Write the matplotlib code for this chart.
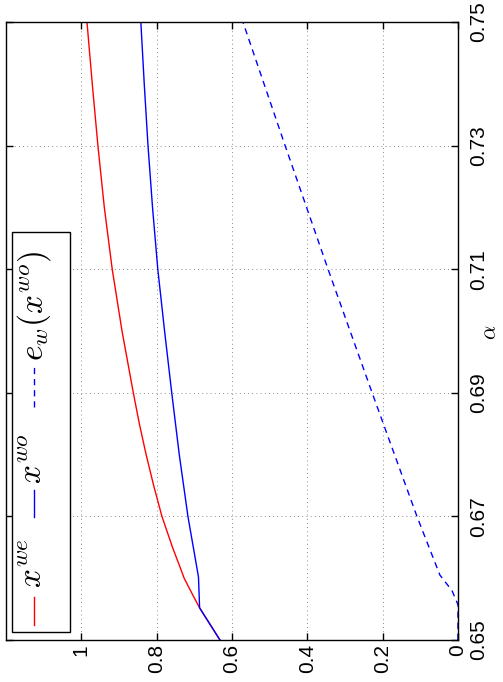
import matplotlib
matplotlib.use("Agg")
import matplotlib.pyplot as plt
from matplotlib.patches import Rectangle
from matplotlib.lines import Line2D

plt.rcParams['font.family'] = ['Liberation Sans', 'DejaVu Sans']
plt.rcParams['mathtext.fontset'] = 'cm'

# ---- data (alpha on the rotated vertical axis, value on the rotated horizontal axis)
alpha_we = [0.65, 0.6552, 0.6575, 0.66, 0.6618, 0.665, 0.67, 0.675, 0.68, 0.685,
            0.69, 0.70, 0.71, 0.72, 0.73, 0.74, 0.75]
x_we = [0.632, 0.686, 0.706, 0.727, 0.738, 0.758, 0.786, 0.808, 0.828, 0.846,
        0.862, 0.892, 0.918, 0.939, 0.956, 0.971, 0.985]

alpha_wo = [0.65, 0.6552, 0.6602, 0.67, 0.68, 0.69, 0.70, 0.71, 0.72, 0.73, 0.74, 0.75]
x_wo = [0.632, 0.686, 0.689, 0.717, 0.740, 0.760, 0.779, 0.797, 0.811, 0.823, 0.833, 0.842]

alpha_ew = [0.65, 0.6557, 0.658, 0.6605, 0.67, 0.69, 0.71, 0.73, 0.75]
e_w = [0.0, 0.0, 0.016, 0.048, 0.109, 0.228, 0.345, 0.459, 0.571]

value_ticks = [0, 0.2, 0.4, 0.6, 0.8, 1]
value_labels = ['0', '0.2', '0.4', '0.6', '0.8', '1']
alpha_ticks = [0.65, 0.67, 0.69, 0.71, 0.73, 0.75]
alpha_labels = ['0.65', '0.67', '0.69', '0.71', '0.73', '0.75']
legend_labels = [r'$x^{we}$', r'$x^{wo}$', r'$e_w(x^{wo})$']
axis_label = r'$\alpha$'

W, H = 503, 682
fig = plt.figure(figsize=(W / 100, H / 100), dpi=100)
l, r, t, b = 6, 458, 22, 640
ax = fig.add_axes([l / W, 1 - b / H, (r - l) / W, (b - t) / H])

ax.plot(x_we, alpha_we, color='red', lw=1.0)
ax.plot(x_wo, alpha_wo, color='blue', lw=1.0)
ax.plot(e_w, alpha_ew, color='blue', lw=1.0, ls=(0, (4.5, 3.5)))

ax.set_xlim(1.2, 0)
ax.set_ylim(0.65, 0.75)
ax.set_xticks(value_ticks)
ax.set_xticklabels(value_labels, rotation=90, fontsize=15)
ax.set_yticks(alpha_ticks)
ax.set_yticklabels(alpha_labels, rotation=90, va='center', fontsize=15)

ax.tick_params(axis='x', direction='in', top=True, bottom=True, length=5, width=1, pad=3)
ax.tick_params(axis='y', direction='in', left=True, right=True, labelleft=False,
               labelright=True, length=5, width=1, pad=8)

ax.grid(True, color='#666666', ls=(0, (1, 4)), lw=0.6)
for s in ax.spines.values():
    s.set_linewidth(1.0)

# axis label for alpha, placed to the right of its tick labels
fig.text(491 / W, 1 - 332 / H, axis_label, rotation=90, ha='center', va='center', fontsize=16)

# ---- manual rotated legend
tr = ax.transAxes
def fx(px):
    return (px - l) / (r - l)
def fy(py):
    return (b - py) / (b - t)

ax.add_patch(Rectangle((fx(12), fy(632)), fx(70) - fx(12), fy(232) - fy(632),
                       transform=tr, facecolor='white', edgecolor='black', lw=1.0, zorder=5))
cx = fx(34)
ax.add_line(Line2D([cx, cx], [fy(625), fy(597)], transform=tr, color='red', lw=1.0, zorder=6))
ax.add_line(Line2D([cx, cx], [fy(517), fy(490)], transform=tr, color='blue', lw=1.0, zorder=6))
ax.add_line(Line2D([cx, cx], [fy(407), fy(367)], transform=tr, color='blue', lw=1.0,
                   ls=(0, (4.5, 3.5)), zorder=6))
for lab, ybot in zip(legend_labels, [588, 484, 361]):
    ax.text(fx(34), fy(ybot), lab, transform=tr, rotation=90, ha='center', va='bottom',
            fontsize=24, zorder=7)

fig.savefig('out.png', dpi=100)
